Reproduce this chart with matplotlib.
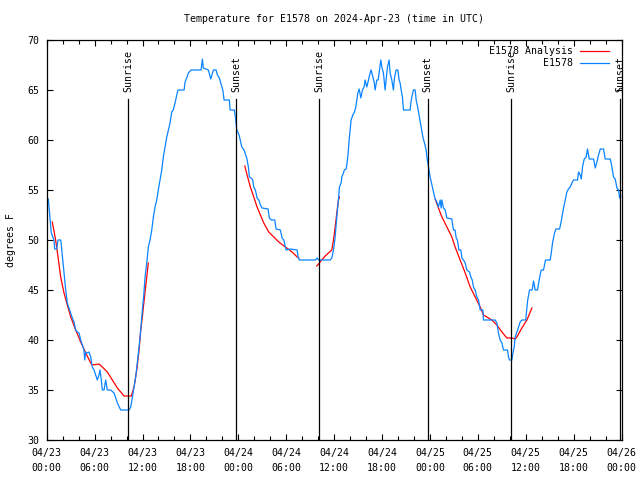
import matplotlib
matplotlib.use("Agg")
import matplotlib.pyplot as plt
from matplotlib.ticker import MultipleLocator

plt.rcParams['font.family'] = ['DejaVu Sans Mono']
FS = 7.1

# hours since 2024-04-23 00:00 UTC
obs_hours = [0.20, 0.58, 0.91, 1.00, 1.25, 1.42, 1.75, 1.83, 1.95, 2.17, 2.38, 2.58, 2.79, 3.01, 3.21,
             3.42, 3.63, 3.83, 4.05, 4.26, 4.46, 4.67, 4.76, 4.89, 5.09, 5.30, 5.51, 5.71, 5.93, 6.14,
             6.34, 6.55, 6.68, 6.84, 6.97, 7.18, 7.39, 7.59, 8.02, 8.43, 8.65, 8.85, 9.27, 10.31, 10.53,
             10.73, 10.94, 11.15, 11.35, 11.57, 11.78, 11.98, 12.16, 12.32, 12.53, 12.73, 12.94, 13.16,
             13.36, 13.57, 13.78, 13.98, 14.20, 14.41, 14.61, 14.82, 15.04, 15.24, 15.45, 15.66, 15.86,
             16.08, 16.29, 16.45, 17.21, 17.33, 17.54, 17.74, 18.08, 19.34, 19.50, 19.62, 20.25, 20.55,
             20.88, 21.22, 21.38, 21.63, 21.80, 22.06, 22.22, 22.88, 22.97, 23.51, 23.68, 23.81, 24.10,
             24.44, 24.72, 25.06, 25.26, 25.39, 25.60, 25.81, 25.94, 26.14, 26.35, 26.57, 26.77, 26.98,
             27.73, 27.89, 28.15, 28.57, 28.73, 29.27, 29.48, 29.70, 29.90, 29.99, 30.53, 31.37, 31.49,
             31.65, 33.66, 33.87, 34.06, 35.50, 35.71, 35.92, 36.13, 36.34, 36.54, 36.67, 36.88, 36.97,
             37.17, 37.29, 37.51, 37.67, 37.79, 37.92, 38.13, 38.35, 38.55, 38.72, 38.85, 38.97, 39.14,
             39.35, 39.55, 39.76, 39.89, 40.10, 40.30, 40.51, 40.64, 40.80, 41.02, 41.14, 41.35, 41.52,
             41.68, 41.85, 41.98, 42.18, 42.39, 42.52, 42.68, 42.89, 43.02, 43.23, 43.43, 43.56, 43.77,
             43.98, 44.15, 44.27, 44.40, 44.56, 44.69, 45.53, 45.61, 45.74, 45.94, 46.15, 46.28, 46.49,
             46.69, 46.90, 47.12, 47.32, 47.53, 47.62, 47.82, 48.03, 48.25, 48.45, 48.66, 48.87, 49.07,
             49.29, 49.41, 49.50, 49.70, 49.91, 50.13, 50.75, 50.95, 51.16, 51.29, 51.45, 51.63, 51.88,
             52.01, 52.21, 52.42, 52.63, 52.96, 53.13, 53.30, 53.46, 53.67, 53.88, 54.09, 54.30, 54.64,
             54.71, 56.18, 56.39, 56.59, 56.80, 57.02, 57.22, 57.72, 57.85, 57.97, 58.27, 58.40, 58.56,
             58.68, 58.90, 59.10, 59.31, 59.52, 60.00, 60.13, 60.25, 60.48, 60.81, 60.98, 61.19, 61.48,
             61.73, 61.94, 62.23, 62.48, 63.07, 63.20, 63.38, 63.61, 63.78, 64.24, 64.41, 64.54, 64.74,
             64.95, 65.16, 65.36, 65.58, 65.79, 65.99, 66.49, 66.62, 66.83, 66.96, 67.12, 67.33, 67.58,
             67.74, 67.96, 68.50, 68.71, 68.92, 69.12, 69.34, 69.75, 69.96, 70.59, 70.80, 71.00, 71.21,
             71.43, 71.63, 71.76, 71.92]
obs_temp = [54.1, 50.7, 50.0, 49.1, 49.1, 50.0, 50.0, 49.5, 48.5, 46.7, 45.0, 43.7, 43.2, 42.7, 42.2,
            41.8, 41.0, 40.8, 40.7, 40.0, 39.5, 39.0, 38.0, 38.8, 38.7, 38.8, 38.3, 37.3, 37.0, 36.5,
            36.0, 36.5, 37.0, 36.0, 35.0, 35.0, 36.0, 35.0, 35.0, 34.7, 34.2, 33.7, 33.0, 33.0, 33.3,
            34.3, 35.3, 36.3, 37.7, 39.3, 41.0, 43.0, 44.5, 46.3, 47.7, 49.3, 50.0, 51.0,
            52.3, 53.3, 54.0, 55.0, 56.0, 57.0, 58.3, 59.3, 60.3, 61.0, 61.7, 62.8, 63.0,
            63.7, 64.5, 65.0, 65.0, 65.8, 66.2, 66.7, 67.0, 67.0, 68.1, 67.2, 67.0, 66.1,
            67.0, 67.0, 66.5, 66.2, 65.7, 65.0, 64.0, 64.0, 63.0, 63.0, 62.0, 61.0, 60.5,
            59.3, 59.0, 58.2, 57.3, 56.3, 56.2, 56.0, 55.3, 55.0, 54.2, 54.0, 53.5, 53.2,
            53.1, 52.2, 52.0, 52.0, 51.1, 51.0, 50.2, 50.0, 49.3, 49.0, 49.1, 49.0, 48.3,
            48.0, 48.0, 48.2, 48.0, 48.0, 48.2, 49.0, 50.3, 52.3, 54.0, 55.3, 55.7, 56.3,
            56.7, 57.0, 57.1, 58.0, 59.0, 60.3, 62.0, 62.5, 62.8, 63.3, 64.0, 64.7, 65.1,
            64.2, 65.0, 65.3, 66.0, 65.3, 66.0, 66.7, 67.0, 66.5, 65.8, 65.0, 66.0, 66.0,
            67.0, 68.0, 67.3, 66.7, 65.0, 66.0, 67.3, 68.0, 66.7, 66.0, 65.0, 66.2, 67.0,
            67.0, 66.0, 65.7, 65.0, 64.3, 63.0, 63.0, 63.7, 64.3, 65.0, 65.0, 64.0, 63.2,
            62.3, 61.3, 60.3, 59.7, 59.0, 58.3, 57.3, 56.3, 55.5, 54.8, 54.1, 53.8, 53.3,
            54.0, 53.2, 54.0, 53.2, 53.0, 52.2, 52.1, 51.0, 51.0, 50.2, 50.0, 49.0, 49.0,
            48.2, 48.0, 47.7, 47.0, 46.8, 46.3, 46.0, 45.3, 45.0, 44.3, 44.0, 43.0, 43.0,
            42.0, 42.0, 41.7, 40.7, 40.0, 39.7, 39.0, 39.0, 38.3, 38.0, 38.0, 38.7, 39.3,
            40.3, 40.8, 41.3, 41.8, 42.0, 42.0, 43.0, 44.0, 45.0, 45.0, 45.9, 45.0, 45.0,
            46.2, 47.0, 47.0, 48.0, 48.0, 48.7, 49.8, 50.7, 51.1, 51.1, 51.7, 52.3, 53.2,
            54.0, 54.8, 55.1, 55.3, 55.7, 56.0, 56.0, 56.8, 56.5, 56.1, 57.3, 58.1, 58.3,
            59.1, 58.1, 58.1, 57.2, 57.8, 58.5, 59.1, 59.1, 58.1, 58.1, 57.3, 56.3, 56.1,
            55.2, 55.0, 54.2, 54.4]

# analysis segments (hours, temp)
ana1_hours = [0.70, 1.12, 1.42, 1.75, 2.17, 2.58, 3.01, 3.63, 4.26, 4.89, 5.51, 5.71, 6.55, 6.97,
              7.59, 8.22, 8.85, 9.69, 10.60, 10.94, 11.28, 11.57, 11.78, 11.98, 12.07, 12.73]
ana1_temp = [51.8, 50.0, 48.3, 46.3, 44.7, 43.5, 42.3, 41.0, 39.8, 38.7, 37.7, 37.5, 37.6, 37.3,
             36.8, 36.0, 35.2, 34.4, 34.4, 35.3, 37.0, 39.0, 41.0, 42.3, 43.0, 47.7]
ana2_hours = [24.81, 25.10, 25.51, 25.94, 26.35, 26.77, 27.19, 27.81, 28.44, 29.07, 29.90, 30.74, 31.37, 31.58]
ana2_temp = [57.4, 56.5, 55.3, 54.3, 53.3, 52.5, 51.7, 50.8, 50.3, 49.8, 49.3, 48.8, 48.3, 48.2]
ana3_hours = [33.83, 34.88, 35.71, 35.92, 36.13, 36.34, 36.54, 36.67]
ana3_temp = [47.4, 48.4, 49.0, 50.0, 51.3, 52.7, 54.0, 54.3]
ana4_hours = [48.66, 49.07, 49.50, 50.13, 50.75, 51.16, 51.79, 52.42, 53.05, 53.67, 54.30, 54.71,
              55.14, 55.76, 56.39, 57.02, 57.64, 58.27, 58.68, 58.90, 59.52, 60.15, 60.57, 60.78]
ana4_temp = [54.1, 53.2, 52.3, 51.3, 50.3, 49.3, 48.0, 46.7, 45.3, 44.3, 43.3, 42.5,
             42.3, 42.0, 41.5, 40.8, 40.2, 40.2, 40.1, 40.3, 41.2, 42.0, 42.8, 43.2]

sun_hours = [10.22, 23.76, 34.16, 47.72, 58.22, 71.84]
sun_labels = ['Sunrise', 'Sunset', 'Sunrise', 'Sunset', 'Sunrise', 'Sunset']

xtick_hours = [0, 6, 12, 18, 24, 30, 36, 42, 48, 54, 60, 66, 72]
xtick_labels = ['04/23\n00:00', '04/23\n06:00', '04/23\n12:00', '04/23\n18:00',
                '04/24\n00:00', '04/24\n06:00', '04/24\n12:00', '04/24\n18:00',
                '04/25\n00:00', '04/25\n06:00', '04/25\n12:00', '04/25\n18:00',
                '04/26\n00:00']

RED = '#ff0000'
BLUE = '#0a84ff'

fig = plt.figure(figsize=(6.4, 4.8), dpi=100)
ax = fig.add_axes([46.7/640, 40/480, (621.5-46.7)/640, 400/480])

first = True
for hh, tt in [(ana1_hours, ana1_temp), (ana2_hours, ana2_temp), (ana3_hours, ana3_temp), (ana4_hours, ana4_temp)]:
    ax.plot(hh, tt, color=RED, lw=0.9, label='E1578 Analysis' if first else None)
    first = False
ax.plot(obs_hours, obs_temp, color=BLUE, lw=0.9, label='E1578')

for h, lab in zip(sun_hours, sun_labels):
    ax.plot([h, h], [0, 0.8525], color='black', lw=0.9, transform=ax.get_xaxis_transform())
    ax.text(h, 0.87, lab, rotation=90, ha='center', va='bottom', fontsize=FS,
            transform=ax.get_xaxis_transform())

ax.set_xlim(0, 72)
ax.set_ylim(30, 70)
ax.set_xticks(xtick_hours)
ax.set_xticklabels(xtick_labels, fontsize=FS, linespacing=1.6)
ax.xaxis.set_minor_locator(MultipleLocator(2))
ax.yaxis.set_major_locator(MultipleLocator(5))
ax.tick_params(axis='both', which='both', direction='in', top=True, right=True, width=0.8)
ax.tick_params(axis='both', which='major', length=4)
ax.tick_params(axis='both', which='minor', length=3)
ax.tick_params(axis='x', which='major', pad=6, labelsize=FS)
ax.tick_params(axis='y', which='major', pad=5, labelsize=FS)
for s in ax.spines.values():
    s.set_linewidth(0.9)

ax.set_ylabel('degrees F', fontsize=FS)
ax.yaxis.set_label_coords(-0.053, 0.5)
ax.set_title('Temperature for E1578 on 2024-Apr-23 (time in UTC)', fontsize=FS, pad=13)

leg = ax.legend(loc='upper right', bbox_to_anchor=(0.982, 0.99), markerfirst=False, frameon=False,
                fontsize=FS, handlelength=3.0, handletextpad=0.7, labelspacing=0.25,
                borderaxespad=0.0, borderpad=0.2)

fig.savefig('out.png', dpi=100)
